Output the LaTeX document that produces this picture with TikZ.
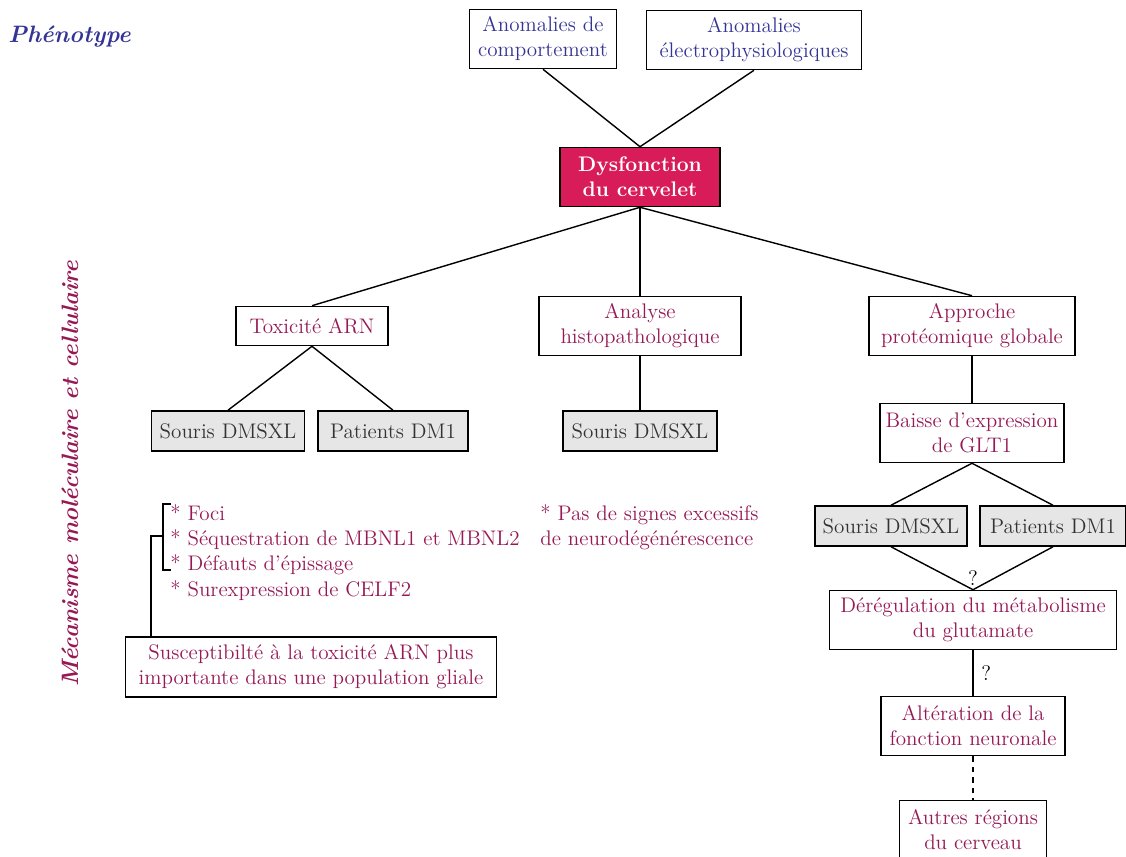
\documentclass[tikz,border=0pt]{standalone}
\usepackage{tikz}
\usetikzlibrary{positioning}
\definecolor{phenoblue}{RGB}{52,52,150}
\definecolor{mecared}{RGB}{150,25,85}
\definecolor{cerveletred}{RGB}{216,28,90}
\definecolor{modelgray}{RGB}{230,230,230}
\tikzset{pheno box/.style={draw,line width=0.9pt,fill=white,align=center,inner sep=1mm,text=phenoblue}}
\tikzset{meca box/.style={draw,line width=0.9pt,fill=white,align=center,inner sep=1mm,text=mecared}}
\tikzset{model box/.style={draw,line width=0.9pt,fill=modelgray,align=center,inner sep=1mm,text=black!80,minimum height=0.8cm}}
\tikzset{link/.style={line width=0.8pt}}
\tikzset{two lines/.style={minimum height=1.18cm}}
\tikzset{one line/.style={minimum height=0.78cm}}
\tikzset{title text/.style={font=\fontsize{13.5}{15}\selectfont\bfseries\itshape}}

\begin{document}
\begin{tikzpicture}[x=0.02cm,y=-0.02cm,font=\fontsize{12}{14.2}\selectfont]
\useasboundingbox (0,0) rectangle (1126,857);

% titres
\node[title text,text=phenoblue,anchor=west,inner sep=0pt] (pheno) at (8,37) {Phénotype};
\node[title text,text=mecared,rotate=90] (meca) at (70,474) {Mécanisme moléculaire et cellulaire};

% phenotype
\node[pheno box,two lines,minimum width=2.94cm] (anomcomp) at (543,39) {Anomalies de\\comportement};
\node[pheno box,two lines,minimum width=4.3cm] (anomelec) at (754,40) {Anomalies\\électrophysiologiques};
\node[draw,line width=0.9pt,fill=cerveletred,text=white,align=center,two lines,minimum width=3.2cm,font=\fontsize{12}{14.2}\selectfont\bfseries] (cervelet) at (640,177) {Dysfonction\\du cervelet};

% trois approches
\node[meca box,one line,minimum width=3.04cm] (toxarn) at (312,326) {Toxicité ARN};
\node[meca box,two lines,minimum width=4.04cm] (histo) at (640,326) {Analyse\\histopathologique};
\node[meca box,two lines,minimum width=4.12cm] (proteo) at (972,326) {Approche\\protéomique globale};

% modeles
\node[model box,minimum width=3.06cm] (sourisA) at (228,431) {Souris DMSXL};
\node[model box,minimum width=3.0cm] (patientsA) at (393,431) {Patients DM1};
\node[model box,minimum width=3.08cm] (sourisB) at (640,431) {Souris DMSXL};
\node[meca box,two lines,minimum width=3.68cm] (glt) at (972,433) {Baisse d'expression\\de GLT1};
\node[model box,minimum width=3.04cm] (sourisC) at (891,526) {Souris DMSXL};
\node[model box,minimum width=2.92cm] (patientsC) at (1053,526) {Patients DM1};

% suite voie proteomique
\node[meca box,two lines,minimum width=5.74cm] (glutamate) at (973,620) {Dérégulation du métabolisme\\du glutamate};
\node[meca box,two lines,minimum width=3.68cm] (neuro) at (973,726) {Altération de la\\fonction neuronale};
\node[meca box,two lines,minimum width=2.94cm] (autres) at (973,830) {Autres régions\\du cerveau};

% listes
\node[anchor=north west,align=left,text=mecared,inner sep=0pt,font=\fontsize{12}{14.4}\selectfont] (toxlist) at (170,504) {* Foci\\* Séquestration de MBNL1 et MBNL2\\* Défauts d'épissage\\* Surexpression de CELF2};
\node[anchor=north west,align=left,text=mecared,inner sep=0pt,font=\fontsize{12}{14.4}\selectfont] (histolist) at (540,504) {* Pas de signes excessifs\\de neurodégénérescence};
\node[meca box,minimum width=7.42cm,minimum height=1.2cm] (gliale) at (311,667) {Susceptibilté à la toxicité ARN plus\\importante dans une population gliale};

% liens
\draw[link] (anomcomp.south) -- (cervelet.north);
\draw[link] (anomelec.south) -- (cervelet.north);
\draw[link] (cervelet.south) -- (toxarn.north);
\draw[link] (cervelet.south) -- (histo.north);
\draw[link] (cervelet.south) -- (proteo.north);
\draw[link] (toxarn.south) -- (sourisA.north);
\draw[link] (toxarn.south) -- (patientsA.north);
\draw[link] (histo.south) -- (sourisB.north);
\draw[link] (proteo.south) -- (glt.north);
\draw[link] (glt.south) -- (sourisC.north);
\draw[link] (glt.south) -- (patientsC.north);
\draw[link] (sourisC.south) -- (glutamate.north);
\draw[link] (patientsC.south) -- (glutamate.north);
\node[above=-1pt of glutamate.north] (q1) {?};
\draw[link] (glutamate.south) -- (neuro.north) node[midway,right=1pt] (q2) {?};
\draw[link,dashed] (neuro.south) -- (autres.north);

% accolade
\coordinate (brtop) at (171,504);
\coordinate (brbot) at (171,570);
\coordinate (brmid) at (163,536);
\coordinate (brjoin) at (151,536);
\draw[link] (brtop) -- (163,504) -- (163,570) -- (brbot);
\draw[link] (brmid) -- (brjoin) -- (brjoin |- gliale.north);
\end{tikzpicture}
\end{document}
